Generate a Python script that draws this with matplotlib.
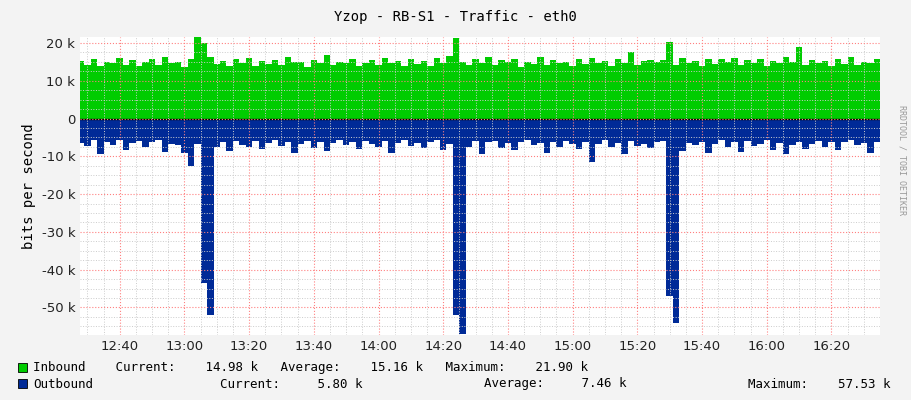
import numpy as np
import matplotlib.pyplot as plt

# minutes after 12:00, 2-minute steps
start_min = 27
step = 2
inbound = [15.2, 14.1, 15.8, 13.9, 15.0, 14.6, 16.1, 14.3, 15.5, 13.8,
           14.9, 15.7, 14.2, 16.3, 14.8, 15.1, 13.6, 15.9, 21.9, 20.1,
           16.2, 14.5, 15.3, 14.0, 15.8, 14.7, 16.0, 13.9, 15.2, 14.4,
           15.6, 14.1, 16.4, 14.9, 15.0, 13.7, 15.4, 14.6, 16.8, 14.2,
           15.1, 14.8, 15.9, 13.8, 14.7, 15.5, 14.3, 16.0, 14.6, 15.3,
           14.0, 15.7, 14.4, 15.2, 13.9, 16.1, 14.8, 16.5, 21.3, 15.0,
           14.3, 15.8, 14.6, 16.2, 14.1, 15.4, 14.9, 15.9, 13.7, 15.1,
           14.5, 16.3, 14.2, 15.6, 14.8, 15.0, 14.0, 15.7, 14.4, 16.0,
           14.7, 15.3, 13.9, 15.8, 14.6, 17.5, 14.3, 15.2, 15.6, 14.9,
           15.5, 20.3, 14.1, 16.0, 14.6, 15.2, 13.8, 15.9, 14.4, 15.7,
           14.9, 16.1, 14.3, 15.4, 14.7, 15.8, 14.0, 15.3, 14.6, 16.4,
           15.1, 19.0, 14.2, 15.6, 14.8, 15.2, 13.9, 15.7, 14.5, 16.2,
           14.3, 15.0, 14.7, 15.9, 14.98]
outbound = [-6.5, -7.2, -5.8, -9.5, -6.1, -7.0, -5.6, -8.2, -6.4, -5.9,
            -7.5, -6.2, -5.7, -8.8, -6.6, -7.1, -9.0, -12.5, -6.8, -43.5,
            -52.0, -7.4, -6.3, -8.5, -5.9, -6.9, -7.6, -6.0, -8.0, -6.5,
            -5.8, -7.3, -6.2, -9.2, -6.7, -5.9, -7.8, -6.1, -8.6, -6.4,
            -5.7, -7.0, -6.3, -8.1, -5.9, -6.8, -7.4, -6.0, -9.0, -6.5,
            -5.8, -7.2, -6.4, -7.9, -6.1, -5.7, -8.3, -6.6, -52.0, -57.0,
            -7.5, -6.0, -9.4, -6.3, -5.9, -7.7, -6.5, -8.4, -6.1, -5.8,
            -7.1, -6.4, -9.1, -6.2, -7.6, -5.9, -6.8, -8.0, -6.3, -11.5,
            -6.7, -5.8, -7.4, -6.5, -9.3, -6.0, -7.2, -6.6, -7.8, -6.2,
            -5.9, -47.0, -54.0, -8.7, -6.4, -7.0, -6.1, -9.2, -6.8, -5.7,
            -7.5, -6.3, -8.9, -6.0, -7.3, -6.6, -5.8, -8.2, -6.4, -9.5,
            -7.1, -6.2, -8.0, -6.7, -5.9, -7.6, -6.3, -8.4, -6.1, -5.8,
            -7.0, -6.5, -9.0, -6.2, -5.80]
tick_labels = ["12:40", "13:00", "13:20", "13:40", "14:00", "14:20", "14:40",
               "15:00", "15:20", "15:40", "16:00", "16:20"]

t = start_min + step * np.arange(len(inbound))
px_per_min = (837 - 120) / 220

fig = plt.figure(figsize=(9.11, 4.0), dpi=100, facecolor="#f3f3f3")
ax = fig.add_axes([80 / 911, 65 / 400, 800 / 911, 298 / 400])
ax.set_facecolor("white")

ax.fill_between(t, inbound, 0, step="post", color="#00cc00", linewidth=0)
ax.fill_between(t, outbound, 0, step="post", color="#002a97", linewidth=0)

x0 = 40 - 40 / px_per_min
ax.set_xlim(x0, x0 + 800 / px_per_min)
ax.set_ylim(-57.3, 21.6)

major_x = 40 + 20 * np.arange(len(tick_labels))
ax.set_xticks(major_x)
ax.set_xticklabels(tick_labels)
ax.set_xticks(np.arange(30, 280, 5), minor=True)
yt = np.arange(-50, 21, 10)
ax.set_yticks(yt)
ax.set_yticklabels([f"{v} k" if v != 0 else "0" for v in yt])
ax.set_yticks(np.arange(-55, 21, 2.5), minor=True)

ax.grid(which="minor", color="#cccccc", linestyle=":", linewidth=0.7)
ax.grid(which="major", color="#ff8080", linestyle=":", linewidth=0.8)
ax.set_axisbelow(False)
ax.axhline(0, color="black", linewidth=1)
for s in ax.spines.values():
    s.set_visible(False)
ax.tick_params(which="both", length=0, labelsize=9.5, colors="#222222")
ax.set_ylabel("bits per second", fontsize=10, family="DejaVu Sans Mono")
for lab in ax.get_xticklabels() + ax.get_yticklabels():
    lab.set_family("DejaVu Sans")

fig.text(0.5, 0.975, "Yzop - RB-S1 - Traffic - eth0", ha="center", va="top",
         fontsize=10, family="DejaVu Sans Mono")
fig.text(0.99, 0.6, "RRDTOOL / TOBI OETIKER", rotation=270, ha="center",
         va="center", fontsize=6, color="#999999", family="DejaVu Sans Mono")

mono = dict(fontsize=9, family="DejaVu Sans Mono", va="center")
fig.patches.append(plt.Rectangle((18 / 911, 1 - 372 / 400), 9 / 911, 9 / 400,
                                 transform=fig.transFigure, fc="#00cc00", ec="black", lw=0.6))
fig.patches.append(plt.Rectangle((18 / 911, 1 - 388 / 400), 9 / 911, 9 / 400,
                                 transform=fig.transFigure, fc="#002a97", ec="black", lw=0.6))
fig.text(33 / 911, 1 - 368 / 400, "Inbound    Current:    14.98 k   Average:    15.16 k   Maximum:    21.90 k", **mono)
fig.text(33 / 911, 1 - 384 / 400, "Outbound", **mono)
fig.text(220 / 911, 1 - 384 / 400, "Current:     5.80 k", **mono)
fig.text(484 / 911, 1 - 384 / 400, "Average:     7.46 k", **mono)
fig.text(748 / 911, 1 - 384 / 400, "Maximum:    57.53 k", **mono)

fig.savefig("out.png", dpi=100, facecolor=fig.get_facecolor())
